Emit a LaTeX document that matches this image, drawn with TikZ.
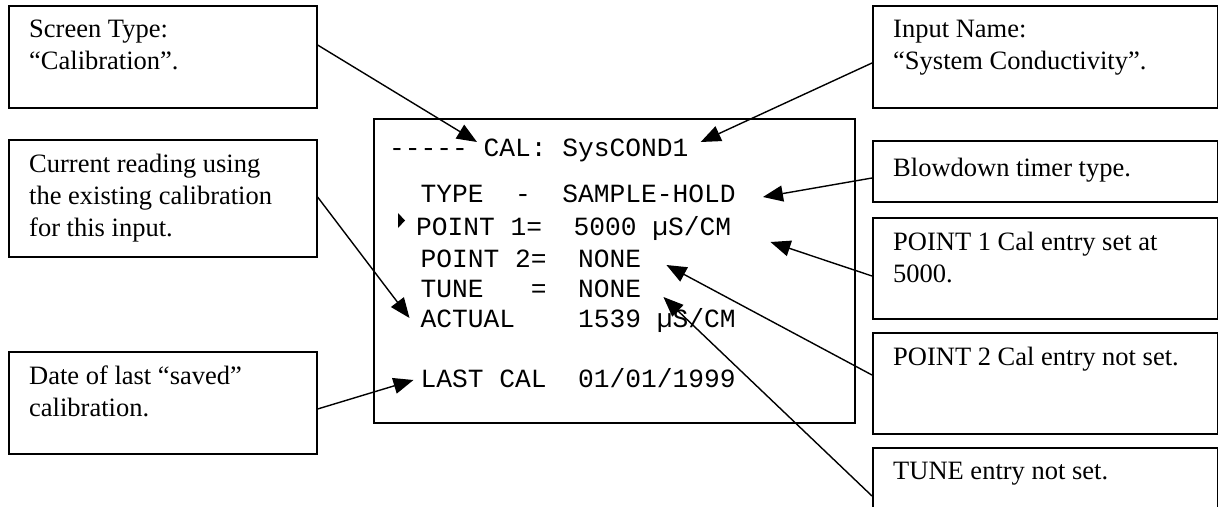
\documentclass[tikz,border=0pt]{standalone}
\usepackage{fontspec}
\setmainfont{Liberation Serif}
\setmonofont{Liberation Mono}
\usetikzlibrary{arrows.meta,calc}
\definecolor{figline}{RGB}{0,0,0}
\tikzset{
  note/.style  ={draw=figline, line width=1.6pt, anchor=north west, inner sep=0pt},
  notetx/.style={anchor=north west, inner sep=0pt, align=left, font=\fontsize{26.5}{32}\selectfont},
  lcdrow/.style={anchor=base west, inner sep=0pt, font=\fontsize{26.25}{30}\selectfont\ttfamily},
  ptr/.style   ={draw=figline, line width=1.4pt, -{Triangle[length=20pt,width=16pt]}},
}
\begin{document}
\begin{tikzpicture}[x=1pt,y=-1pt]
  \useasboundingbox (0,0) rectangle (1218,506);
  \clip (0,0) rectangle (1218,506);
  \node[note,minimum width=308pt,minimum height=102pt] (scrbox) at (8,5) {};
  \node[note,minimum width=308pt,minimum height=117pt] (readbox) at (8,139) {};
  \node[note,minimum width=308pt,minimum height=102pt] (datebox) at (8,351) {};
  \node[note,minimum width=345pt,minimum height=102pt] (namebox) at (872,5) {};
  \node[note,minimum width=345pt,minimum height=61pt] (typebox) at (872,140) {};
  \node[note,minimum width=345pt,minimum height=101pt] (p1box) at (872,217) {};
  \node[note,minimum width=345pt,minimum height=101pt] (p2box) at (872,332) {};
  \node[note,minimum width=345pt,minimum height=100pt] (tunebox) at (872,447) {};
  \node[note,minimum width=481pt,minimum height=304pt] (lcd) at (373,118) {};
  \node[notetx] (scrtx) at ($(scrbox.north west)+(21,15)$) {Screen Type:\\``Calibration''.};
  \node[notetx] (readtx) at ($(readbox.north west)+(21,15)$) {Current reading using\\the existing calibration\\for this input.};
  \node[notetx] (datetx) at ($(datebox.north west)+(21,15)$) {Date of last ``saved''\\calibration.};
  \node[notetx] (nametx) at ($(namebox.north west)+(21,15)$) {Input Name:\\``System Conductivity''.};
  \node[notetx] (typetx) at ($(typebox.north west)+(21,18)$) {Blowdown timer type.};
  \node[notetx] (p1tx) at ($(p1box.north west)+(21,15)$) {POINT 1 Cal entry set at\\5000.};
  \node[notetx] (p2tx) at ($(p2box.north west)+(21,15)$) {POINT 2 Cal entry not set.};
  \node[notetx] (tunetx) at ($(tunebox.north west)+(21,15)$) {TUNE entry not set.};
  \node[lcdrow] (headrow) at (389,156) {-\kern0pt-\kern0pt-\kern0pt-\kern0pt-~CAL:~SysCOND1};
  \node[lcdrow] (typerow) at (420.5,202) {TYPE~~-~~SAMPLE-HOLD};
  \node[lcdrow] (p1row) at (416,235) {POINT~1=~~5000~µS/CM};
  \node[lcdrow] (p2row) at (420.5,267) {POINT~2=~~NONE};
  \node[lcdrow] (tunerow) at (420.5,297) {TUNE~~~=~~NONE};
  \node[lcdrow] (actrow) at (420.5,327) {ACTUAL~~~~1539~µS/CM};
  \node[lcdrow] (lastrow) at (420.5,387) {LAST~CAL~~01/01/1999};
  \fill[figline] (398,213) -- (405,220.5) -- (398,228) -- cycle;
  \draw[ptr] ($(scrbox.north east)+(0,40)$) -- ($(headrow.base west)+(88,-14)$);
  \draw[ptr] ($(namebox.north west)+(0,58)$) -- ($(headrow.base east)+(12,-14)$);
  \draw[ptr] ($(readbox.north east)+(0,58)$) -- ($(actrow.base west)+(-11,-9)$);
  \draw[ptr] ($(datebox.north east)+(0,58)$) -- ($(lastrow.base west)+(-7,-7)$);
  \draw[ptr] ($(typebox.north west)+(0,38)$) -- ($(typerow.base east)+(27,-5)$);
  \draw[ptr] ($(p1box.north west)+(0,59)$) -- ($(p1row.base east)+(39,7)$);
  \draw[ptr] ($(p2box.north west)+(0,43)$) -- ($(p2row.base east)+(25,-2)$);
  \draw[ptr] ($(tunebox.north west)+(0,49)$) -- ($(tunerow.base east)+(22,0)$);
\end{tikzpicture}
\end{document}
